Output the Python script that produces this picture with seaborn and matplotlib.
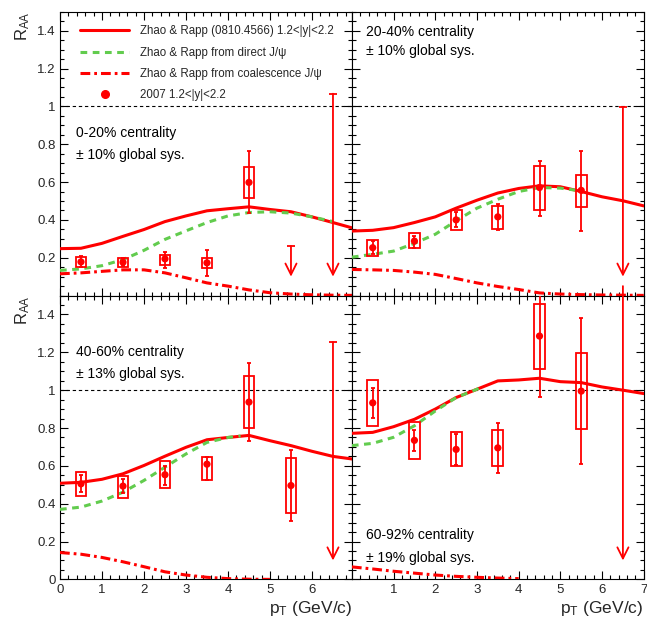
import numpy as np
import matplotlib
matplotlib.use("Agg")
import matplotlib.pyplot as plt
import seaborn as sns
from matplotlib.ticker import MultipleLocator, FuncFormatter
from matplotlib.lines import Line2D

# ---------------- data ----------------
centrality_labels = ["0-20% centrality", "20-40% centrality", "40-60% centrality", "60-92% centrality"]
global_sys_labels = ["\u00b1 10% global sys.", "\u00b1 10% global sys.", "\u00b1 13% global sys.", "\u00b1 19% global sys."]

theory_x = [0, 0.5, 1, 1.5, 2, 2.5, 3, 3.5, 4, 4.5, 5, 5.5, 6, 6.5, 7]

# total Zhao & Rapp
total_0_20 = [0.248, 0.250, 0.276, 0.313, 0.349, 0.391, 0.421, 0.448, 0.459, 0.469, 0.455, 0.443, 0.416, 0.386, 0.355]
total_20_40 = [0.341, 0.345, 0.359, 0.386, 0.416, 0.462, 0.504, 0.542, 0.566, 0.580, 0.575, 0.550, 0.522, 0.501, 0.474]
total_40_60 = [0.508, 0.513, 0.529, 0.558, 0.602, 0.651, 0.698, 0.738, 0.750, 0.761, 0.733, 0.707, 0.677, 0.650, 0.635]
total_60_92 = [0.772, 0.777, 0.807, 0.846, 0.900, 0.961, 1.005, 1.049, 1.054, 1.063, 1.045, 1.040, 1.017, 1.000, 0.982]

# direct J/psi
direct_x_0_20 = [0, 0.5, 1, 1.5, 2, 2.5, 3, 3.5, 4, 4.5, 5, 5.5, 6, 6.5]
direct_0_20 = [0.133, 0.141, 0.158, 0.190, 0.239, 0.297, 0.342, 0.386, 0.421, 0.439, 0.443, 0.436, 0.416, 0.391]
direct_x_20_40 = [0, 0.5, 1, 1.5, 2, 2.5, 3, 3.5, 4, 4.5, 5, 5.5]
direct_20_40 = [0.203, 0.218, 0.235, 0.276, 0.324, 0.395, 0.462, 0.509, 0.550, 0.571, 0.568, 0.553]
direct_x_40_60 = [0, 0.5, 1, 1.5, 2, 2.5, 3, 3.5, 4, 4.3]
direct_40_60 = [0.370, 0.382, 0.414, 0.461, 0.523, 0.593, 0.663, 0.724, 0.750, 0.758]
direct_x_60_92 = [0, 0.5, 1, 1.5, 2, 2.5, 3, 3.1]
direct_60_92 = [0.707, 0.719, 0.751, 0.812, 0.890, 0.961, 1.005, 1.018]

# coalescence J/psi
coal_x_0_20 = [0, 0.5, 1, 1.5, 2, 2.5, 3, 3.5, 4, 4.5, 5, 5.5, 6, 6.5, 7]
coal_0_20 = [0.115, 0.120, 0.128, 0.136, 0.136, 0.120, 0.094, 0.067, 0.050, 0.030, 0.015, 0.008, 0.004, 0.002, 0.001]
coal_x_20_40 = [0, 0.5, 1, 1.5, 2, 2.5, 3, 3.5, 4, 4.5, 5, 5.5, 6, 6.5, 7]
coal_20_40 = [0.138, 0.136, 0.133, 0.124, 0.112, 0.090, 0.067, 0.048, 0.032, 0.014, 0.008, 0.005, 0.003, 0.002, 0.001]
coal_x_40_60 = [0, 0.5, 1, 1.5, 2, 2.5, 3, 3.5, 4, 4.5, 5]
coal_40_60 = [0.142, 0.133, 0.116, 0.093, 0.067, 0.040, 0.023, 0.011, 0.004, 0.001, 0.0]
coal_x_60_92 = [0, 0.5, 1, 1.5, 2, 2.5, 3, 3.5, 4]
coal_60_92 = [0.066, 0.055, 0.043, 0.033, 0.023, 0.016, 0.011, 0.007, 0.004]

# measured points (2007, 1.2<|y|<2.2)
pt_0_20 = [0.5, 1.5, 2.5, 3.5, 4.5]
raa_0_20 = [0.178, 0.176, 0.194, 0.173, 0.598]
stat_lo_0_20 = [0.150, 0.155, 0.147, 0.106, 0.439]
stat_hi_0_20 = [0.208, 0.200, 0.232, 0.242, 0.766]
sys_lo_0_20 = [0.152, 0.153, 0.163, 0.147, 0.518]
sys_hi_0_20 = [0.203, 0.200, 0.215, 0.200, 0.678]
ul_pt_0_20 = [5.5, 6.5]
ul_top_0_20 = [0.262, 1.067]

pt_20_40 = [0.5, 1.5, 2.5, 3.5, 4.5, 5.5]
raa_20_40 = [0.253, 0.288, 0.400, 0.416, 0.571, 0.556]
stat_lo_20_40 = [0.218, 0.253, 0.360, 0.345, 0.421, 0.341]
stat_hi_20_40 = [0.290, 0.317, 0.440, 0.483, 0.713, 0.766]
sys_lo_20_40 = [0.210, 0.250, 0.347, 0.354, 0.451, 0.468]
sys_hi_20_40 = [0.296, 0.330, 0.451, 0.471, 0.687, 0.639]
ul_pt_20_40 = [6.5]
ul_top_20_40 = [0.996]

pt_40_60 = [0.5, 1.5, 2.5, 3.5, 4.5, 5.5]
raa_40_60 = [0.505, 0.493, 0.553, 0.609, 0.937, 0.496]
stat_lo_40_60 = [0.462, 0.458, 0.497, 0.524, 0.730, 0.308]
stat_hi_40_60 = [0.553, 0.528, 0.598, 0.648, 1.142, 0.686]
sys_lo_40_60 = [0.440, 0.430, 0.482, 0.526, 0.800, 0.353]
sys_hi_40_60 = [0.570, 0.546, 0.624, 0.645, 1.075, 0.642]
ul_pt_40_60 = [6.5]
ul_top_40_60 = [1.254]

pt_60_92 = [0.5, 1.5, 2.5, 3.5, 4.5, 5.5]
raa_60_92 = [0.933, 0.735, 0.687, 0.695, 1.286, 0.995]
stat_lo_60_92 = [0.854, 0.677, 0.605, 0.561, 0.966, 0.612]
stat_hi_60_92 = [1.012, 0.790, 0.768, 0.824, 1.530, 1.379]
sys_lo_60_92 = [0.811, 0.637, 0.598, 0.598, 1.114, 0.795]
sys_hi_60_92 = [1.053, 0.830, 0.779, 0.787, 1.456, 1.196]
ul_pt_60_92 = [6.5]
ul_top_60_92 = [1.55]

ul_tip = 0.10

legend_labels = ["Zhao & Rapp (0810.4566) 1.2<|y|<2.2",
                 "Zhao & Rapp from direct J/\u03c8",
                 "Zhao & Rapp from coalescence J/\u03c8",
                 "2007 1.2<|y|<2.2"]

# ---------------- style ----------------
sns.set_theme(style="ticks")
plt.rcParams["font.family"] = ["Liberation Sans", "DejaVu Sans"]
plt.rcParams["mathtext.fontset"] = "custom"
plt.rcParams["mathtext.rm"] = "Liberation Sans"
plt.rcParams["mathtext.it"] = "Liberation Sans"

RED = "#ff0000"
GREEN = "#62cc4e"
LW = 2.2
DASH = (0, (2.2, 1.8))
DASHDOT = (0, (3.2, 1.3, 0.9, 1.3))

panels = [
    dict(total=total_0_20, dx=direct_x_0_20, d=direct_0_20, cx=coal_x_0_20, c=coal_0_20,
         pt=pt_0_20, raa=raa_0_20, slo=stat_lo_0_20, shi=stat_hi_0_20, ylo=sys_lo_0_20, yhi=sys_hi_0_20,
         ulx=ul_pt_0_20, ult=ul_top_0_20, text_xy=(0.38, 0.86, 0.745)),
    dict(total=total_20_40, dx=direct_x_20_40, d=direct_20_40, cx=coal_x_20_40, c=coal_20_40,
         pt=pt_20_40, raa=raa_20_40, slo=stat_lo_20_40, shi=stat_hi_20_40, ylo=sys_lo_20_40, yhi=sys_hi_20_40,
         ulx=ul_pt_20_40, ult=ul_top_20_40, text_xy=(0.35, 1.395, 1.29)),
    dict(total=total_40_60, dx=direct_x_40_60, d=direct_40_60, cx=coal_x_40_60, c=coal_40_60,
         pt=pt_40_60, raa=raa_40_60, slo=stat_lo_40_60, shi=stat_hi_40_60, ylo=sys_lo_40_60, yhi=sys_hi_40_60,
         ulx=ul_pt_40_60, ult=ul_top_40_60, text_xy=(0.38, 1.20, 1.084)),
    dict(total=total_60_92, dx=direct_x_60_92, d=direct_60_92, cx=coal_x_60_92, c=coal_60_92,
         pt=pt_60_92, raa=raa_60_92, slo=stat_lo_60_92, shi=stat_hi_60_92, ylo=sys_lo_60_92, yhi=sys_hi_60_92,
         ulx=ul_pt_60_92, ult=ul_top_60_92, text_xy=(0.35, 0.233, 0.114)),
]

fig, axes = plt.subplots(2, 2, figsize=(6.47, 6.19), dpi=100,
                         gridspec_kw=dict(wspace=0, hspace=0))
fig.subplots_adjust(left=0.0927, right=0.995, bottom=0.064, top=0.981)


def yfmt(v, pos):
    if abs(v) < 1e-9:
        return "0"
    if abs(v - 1) < 1e-9:
        return "1"
    return "%.1f" % v


for i, (ax, p) in enumerate(zip(axes.flat, panels)):
    row, col = divmod(i, 2)
    ax.axhline(1.0, color="black", lw=0.8, ls=(0, (3, 2.5)), zorder=1)

    sns.lineplot(x=theory_x, y=p["total"], ax=ax, color=RED, lw=LW, zorder=3)
    sns.lineplot(x=p["dx"], y=p["d"], ax=ax, color=GREEN, lw=LW, linestyle=DASH, zorder=3)
    sns.lineplot(x=p["cx"], y=p["c"], ax=ax, color=RED, lw=LW, linestyle=DASHDOT, zorder=3)

    pt = np.array(p["pt"])
    ylo = np.array(p["ylo"])
    yhi = np.array(p["yhi"])
    raa = np.array(p["raa"])
    ax.bar(pt, yhi - ylo, bottom=ylo, width=0.26, fill=False, edgecolor=RED, lw=1.3, zorder=4)
    ax.errorbar(pt, raa, yerr=[raa - np.array(p["slo"]), np.array(p["shi"]) - raa],
                fmt="none", ecolor=RED, elinewidth=1.3, capsize=1.6, capthick=1.3, zorder=5)
    sns.scatterplot(x=pt, y=raa, ax=ax, color=RED, s=27, edgecolor="none", zorder=6)

    for ux, ut in zip(p["ulx"], p["ult"]):
        ax.annotate("", xy=(ux, ul_tip), xytext=(ux, ut),
                    arrowprops=dict(arrowstyle="->", color=RED, lw=1.3, mutation_scale=20,
                                    shrinkA=0, shrinkB=0), zorder=5)
        ax.plot([ux], [ut], marker="_", ms=6, mew=1.3, color=RED, zorder=5)

    tx, ty1, ty2 = p["text_xy"]
    ax.text(tx, ty1, centrality_labels[i], fontsize=10, va="center", ha="left", color="black")
    ax.text(tx, ty2, global_sys_labels[i], fontsize=10, va="center", ha="left", color="black")

    ax.set_xlim(0, 6.95 if col == 0 else 7)
    ax.set_ylim(0, 1.5)
    ax.xaxis.set_major_locator(MultipleLocator(1))
    ax.xaxis.set_minor_locator(MultipleLocator(0.2))
    ax.yaxis.set_major_locator(MultipleLocator(0.2))
    ax.yaxis.set_minor_locator(MultipleLocator(0.05))
    ax.tick_params(which="both", direction="in", top=True, right=True, color="black",
                   labelsize=9.5, width=0.8, pad=3)
    ax.tick_params(which="major", length=6)
    ax.tick_params(which="minor", length=3)
    for s in ax.spines.values():
        s.set_linewidth(0.8)
        s.set_color("black")

    if col == 0:
        if row == 0:
            ax.yaxis.set_major_formatter(FuncFormatter(lambda v, pos: "" if abs(v) < 1e-9 else yfmt(v, pos)))
        else:
            ax.yaxis.set_major_formatter(FuncFormatter(yfmt))
        ax.set_ylabel("R$_{AA}$", fontsize=12, loc="top")
        ax.yaxis.set_label_coords(-0.095, 1.0)
    else:
        ax.set_ylabel("")
        ax.tick_params(labelleft=False)

    if row == 0:
        ax.tick_params(labelbottom=False)
        ax.set_xlabel("")
    else:
        if col == 1:
            ax.xaxis.set_major_formatter(FuncFormatter(lambda v, pos: "" if abs(v) < 1e-9 else "%d" % v))
        else:
            ax.xaxis.set_major_formatter(FuncFormatter(lambda v, pos: "%d" % v))
        ax.set_xlabel("p$_{T}$ (GeV/c)", fontsize=12.5, loc="right")
        ax.xaxis.set_label_coords(1.0, -0.068)

# legend in first panel
handles = [Line2D([], [], color=RED, lw=LW),
           Line2D([], [], color=GREEN, lw=LW, linestyle=DASH),
           Line2D([], [], color=RED, lw=LW, linestyle=DASHDOT),
           Line2D([], [], color=RED, marker="o", ms=5.5, linestyle="none")]
axes[0, 0].legend(handles, legend_labels, loc="upper left", bbox_to_anchor=(0.07, 0.953),
                  frameon=False, fontsize=8.3, handlelength=4.2, handletextpad=1.0,
                  labelspacing=0.82, borderpad=0, borderaxespad=0)

fig.savefig("out.png", dpi=100)
